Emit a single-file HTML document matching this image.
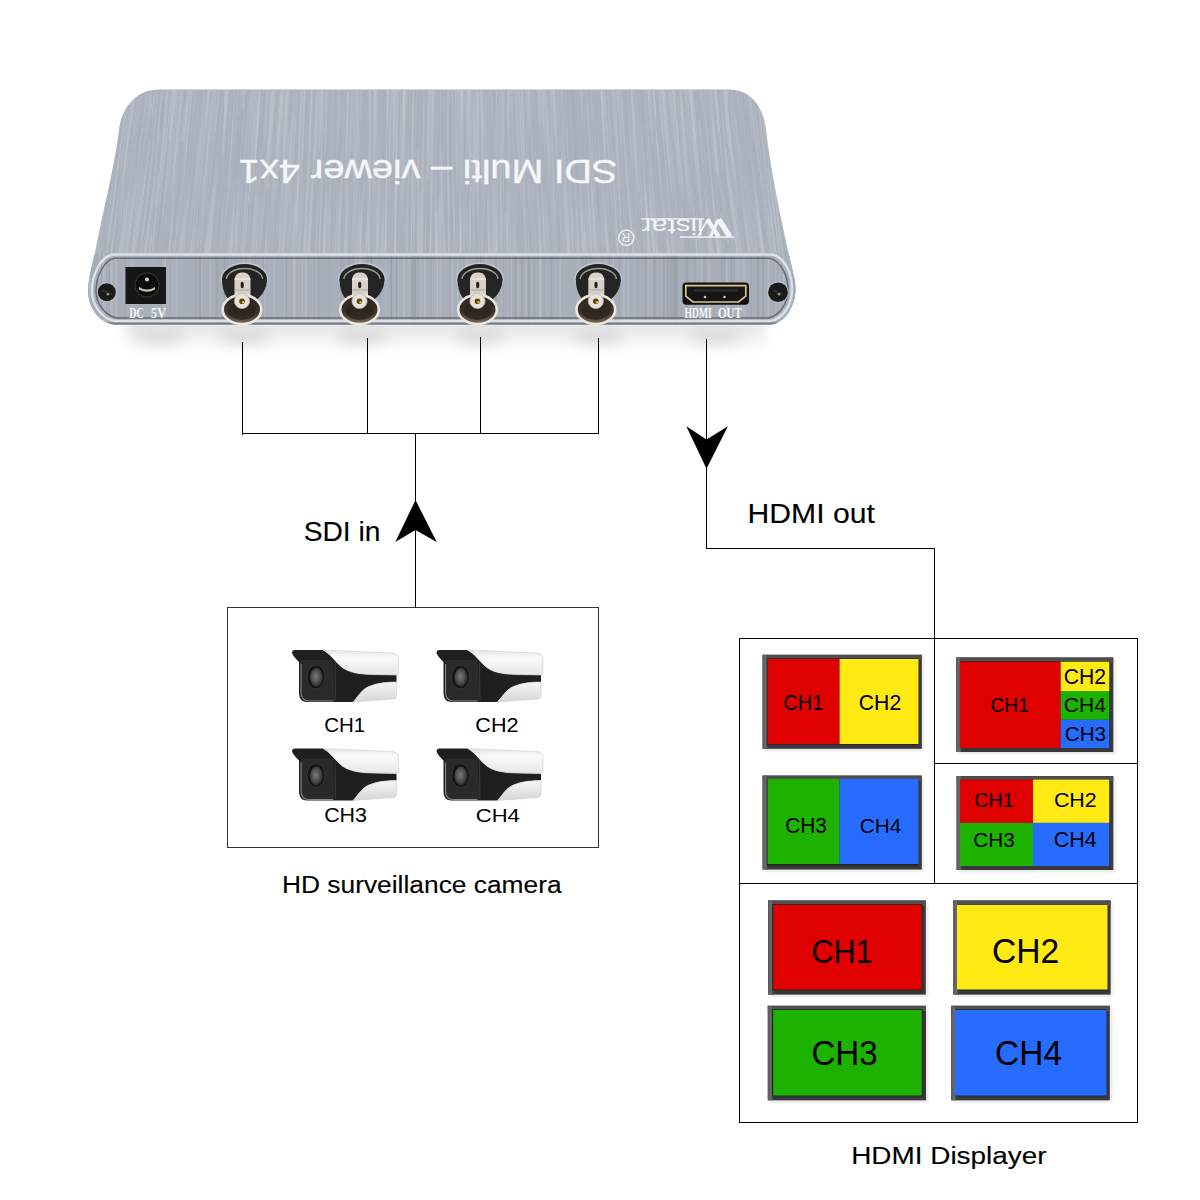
<!DOCTYPE html><html><head><meta charset="utf-8"><style>html,body{margin:0;padding:0;background:#fff;}body{width:1200px;height:1200px;overflow:hidden;position:relative;}svg{position:absolute;left:0;top:0;}</style></head><body>
<svg width="1200" height="1200" viewBox="0 0 1200 1200" font-family="Liberation Sans, sans-serif">
<defs>
<filter id="blur8" x="-20%" y="-50%" width="140%" height="200%"><feGaussianBlur stdDeviation="6"/></filter>
<filter id="blur2" x="-20%" y="-20%" width="140%" height="140%"><feGaussianBlur stdDeviation="1.5"/></filter>
<linearGradient id="bncin" x1="0" y1="0" x2="0" y2="1"><stop offset="0" stop-color="#2a221c"/><stop offset="0.6" stop-color="#3e3228"/><stop offset="1" stop-color="#7a6a58"/></linearGradient><linearGradient id="tvtop" x1="0" y1="0" x2="0" y2="1"><stop offset="0" stop-color="#4a4a4a"/><stop offset="1" stop-color="#575757"/></linearGradient><linearGradient id="tvleft" x1="0" y1="0" x2="1" y2="0"><stop offset="0" stop-color="#5a5a5a"/><stop offset="0.6" stop-color="#6a6a6a"/><stop offset="1" stop-color="#4a4a4a"/></linearGradient><linearGradient id="tvframe" x1="0" y1="0" x2="0" y2="1"><stop offset="0" stop-color="#2a2a2a"/><stop offset="0.5" stop-color="#3a3a3a"/><stop offset="1" stop-color="#444"/></linearGradient>
<linearGradient id="camwhite" x1="0" y1="0" x2="0" y2="1"><stop offset="0" stop-color="#e2e2e2"/><stop offset="0.3" stop-color="#fafafa"/><stop offset="1" stop-color="#e6e6e6"/></linearGradient>
<linearGradient id="camwhite2" x1="0" y1="0" x2="0" y2="1"><stop offset="0" stop-color="#f6f6f6"/><stop offset="1" stop-color="#d6d6d6"/></linearGradient>
<radialGradient id="lens" cx="0.45" cy="0.45" r="0.6"><stop offset="0" stop-color="#7a7a7a"/><stop offset="0.6" stop-color="#4a4a4a"/><stop offset="1" stop-color="#1a1a1a"/></radialGradient>
<clipPath id="topclip"><path d="M159,89.5 L729,89.5 C750,89.5 763,105 766,130 L782.5,253 L98.5,253 L119,130 C122,105 138,89.5 159,89.5 Z"/></clipPath>
<clipPath id="frontclip"><path d="M125,254 L760,254 C785,254 795,272 795,291 C795,310 785,324.5 760,324.5 L125,324.5 C100,324.5 89.5,310 89.5,290 C89.5,272 100,254 125,254 Z"/></clipPath>
</defs>
<linearGradient id="shad" x1="0" y1="0" x2="0" y2="1"><stop offset="0" stop-color="#d8d8d8"/><stop offset="0.3" stop-color="#ebebeb"/><stop offset="1" stop-color="#ffffff"/></linearGradient>
<rect x="125" y="321" width="640" height="32" fill="url(#shad)" filter="url(#blur8)"/>
<ellipse cx="160" cy="336" rx="26" ry="9" fill="#d6d6d6" opacity="0.7" filter="url(#blur8)"/>
<ellipse cx="244" cy="336" rx="26" ry="9" fill="#d6d6d6" opacity="0.7" filter="url(#blur8)"/>
<ellipse cx="362" cy="336" rx="26" ry="9" fill="#d6d6d6" opacity="0.7" filter="url(#blur8)"/>
<ellipse cx="480" cy="336" rx="26" ry="9" fill="#d6d6d6" opacity="0.7" filter="url(#blur8)"/>
<ellipse cx="598" cy="336" rx="26" ry="9" fill="#d6d6d6" opacity="0.7" filter="url(#blur8)"/>
<ellipse cx="715" cy="336" rx="26" ry="9" fill="#d6d6d6" opacity="0.7" filter="url(#blur8)"/>
<clipPath id="silclip"><path d="M159,89.5 L729,89.5 C750,89.5 763,105 766,130 C770,165 780,215 788.5,253 C792,268 795.5,280 795.5,289 C795.5,305 786,323.7 770,324.5 L115,324.5 C100,323.7 88,308 88,291 C88,280 92,266 95,253 C102,215 115,165 119,130 C122,105 138,89.5 159,89.5 Z"/></clipPath>
<path d="M159,89.5 L729,89.5 C750,89.5 763,105 766,130 C770,165 780,215 788.5,253 C792,268 795.5,280 795.5,289 C795.5,305 786,323.7 770,324.5 L115,324.5 C100,323.7 88,308 88,291 C88,280 92,266 95,253 C102,215 115,165 119,130 C122,105 138,89.5 159,89.5 Z" fill="#aab1bd"/>
<g clip-path="url(#silclip)">
<filter id="brush" x="0" y="60" width="900" height="220" filterUnits="userSpaceOnUse"><feTurbulence type="fractalNoise" baseFrequency="0.5 0.006" numOctaves="3" seed="5" result="n"/><feColorMatrix in="n" type="matrix" values="0 0 0 0 0.72  0 0 0 0 0.75  0 0 0 0 0.80  1.8 0 0 0 -0.95"/></filter>
<filter id="brushd" x="0" y="60" width="900" height="220" filterUnits="userSpaceOnUse"><feTurbulence type="fractalNoise" baseFrequency="0.42 0.005" numOctaves="3" seed="11" result="n"/><feColorMatrix in="n" type="matrix" values="0 0 0 0 0.58  0 0 0 0 0.61  0 0 0 0 0.67  2.4 0 0 0 -1.1"/></filter>
<clipPath id="strip0"><rect x="80" y="80" width="72" height="180"/></clipPath>
<g clip-path="url(#strip0)"><g transform="translate(116 170) skewX(-7.14) translate(-116 -170)"><rect x="40" y="80" width="152" height="180" filter="url(#brush)" opacity="0.6"/><rect x="40" y="80" width="152" height="180" filter="url(#brushd)" opacity="0.75"/></g></g>
<clipPath id="strip1"><rect x="152" y="80" width="72" height="180"/></clipPath>
<g clip-path="url(#strip1)"><g transform="translate(188 170) skewX(-5.55) translate(-188 -170)"><rect x="112" y="80" width="152" height="180" filter="url(#brush)" opacity="0.6"/><rect x="112" y="80" width="152" height="180" filter="url(#brushd)" opacity="0.75"/></g></g>
<clipPath id="strip2"><rect x="224" y="80" width="72" height="180"/></clipPath>
<g clip-path="url(#strip2)"><g transform="translate(260 170) skewX(-3.97) translate(-260 -170)"><rect x="184" y="80" width="152" height="180" filter="url(#brush)" opacity="0.6"/><rect x="184" y="80" width="152" height="180" filter="url(#brushd)" opacity="0.75"/></g></g>
<clipPath id="strip3"><rect x="296" y="80" width="72" height="180"/></clipPath>
<g clip-path="url(#strip3)"><g transform="translate(332 170) skewX(-2.38) translate(-332 -170)"><rect x="256" y="80" width="152" height="180" filter="url(#brush)" opacity="0.6"/><rect x="256" y="80" width="152" height="180" filter="url(#brushd)" opacity="0.75"/></g></g>
<clipPath id="strip4"><rect x="368" y="80" width="72" height="180"/></clipPath>
<g clip-path="url(#strip4)"><g transform="translate(404 170) skewX(-0.79) translate(-404 -170)"><rect x="328" y="80" width="152" height="180" filter="url(#brush)" opacity="0.6"/><rect x="328" y="80" width="152" height="180" filter="url(#brushd)" opacity="0.75"/></g></g>
<clipPath id="strip5"><rect x="440" y="80" width="72" height="180"/></clipPath>
<g clip-path="url(#strip5)"><g transform="translate(476 170) skewX(0.79) translate(-476 -170)"><rect x="400" y="80" width="152" height="180" filter="url(#brush)" opacity="0.6"/><rect x="400" y="80" width="152" height="180" filter="url(#brushd)" opacity="0.75"/></g></g>
<clipPath id="strip6"><rect x="512" y="80" width="72" height="180"/></clipPath>
<g clip-path="url(#strip6)"><g transform="translate(548 170) skewX(2.38) translate(-548 -170)"><rect x="472" y="80" width="152" height="180" filter="url(#brush)" opacity="0.6"/><rect x="472" y="80" width="152" height="180" filter="url(#brushd)" opacity="0.75"/></g></g>
<clipPath id="strip7"><rect x="584" y="80" width="72" height="180"/></clipPath>
<g clip-path="url(#strip7)"><g transform="translate(620 170) skewX(3.97) translate(-620 -170)"><rect x="544" y="80" width="152" height="180" filter="url(#brush)" opacity="0.6"/><rect x="544" y="80" width="152" height="180" filter="url(#brushd)" opacity="0.75"/></g></g>
<clipPath id="strip8"><rect x="656" y="80" width="72" height="180"/></clipPath>
<g clip-path="url(#strip8)"><g transform="translate(692 170) skewX(5.55) translate(-692 -170)"><rect x="616" y="80" width="152" height="180" filter="url(#brush)" opacity="0.6"/><rect x="616" y="80" width="152" height="180" filter="url(#brushd)" opacity="0.75"/></g></g>
<clipPath id="strip9"><rect x="728" y="80" width="72" height="180"/></clipPath>
<g clip-path="url(#strip9)"><g transform="translate(764 170) skewX(7.14) translate(-764 -170)"><rect x="688" y="80" width="152" height="180" filter="url(#brush)" opacity="0.6"/><rect x="688" y="80" width="152" height="180" filter="url(#brushd)" opacity="0.75"/></g></g>
<line x1="316.5" y1="98.4" x2="311.2" y2="211.3" stroke="#c0c7d2" stroke-width="1.7" opacity="0.23"/>
<line x1="501.7" y1="216.0" x2="503.0" y2="253.0" stroke="#c0c7d2" stroke-width="1.2" opacity="0.22"/>
<line x1="149.9" y1="140.8" x2="134.6" y2="253.0" stroke="#c0c7d2" stroke-width="1.9" opacity="0.39"/>
<line x1="501.8" y1="84.6" x2="504.3" y2="188.6" stroke="#c0c7d2" stroke-width="2.0" opacity="0.21"/>
<line x1="698.8" y1="119.9" x2="703.2" y2="164.4" stroke="#c0c7d2" stroke-width="1.4" opacity="0.37"/>
<line x1="572.6" y1="91.0" x2="577.8" y2="193.1" stroke="#9da4b0" stroke-width="1.1" opacity="0.36"/>
<line x1="129.9" y1="84.2" x2="123.6" y2="137.0" stroke="#b4bbc7" stroke-width="1.2" opacity="0.29"/>
<line x1="503.7" y1="145.2" x2="505.3" y2="210.7" stroke="#9da4b0" stroke-width="1.6" opacity="0.27"/>
<line x1="495.7" y1="156.4" x2="498.8" y2="253.0" stroke="#a3aab6" stroke-width="1.0" opacity="0.49"/>
<line x1="169.4" y1="139.8" x2="156.2" y2="253.0" stroke="#9da4b0" stroke-width="1.9" opacity="0.33"/>
<line x1="772.8" y1="87.0" x2="785.7" y2="187.4" stroke="#bac1cc" stroke-width="1.1" opacity="0.31"/>
<line x1="440.1" y1="198.5" x2="440.1" y2="232.8" stroke="#c0c7d2" stroke-width="1.9" opacity="0.34"/>
<line x1="559.9" y1="84.4" x2="565.4" y2="204.1" stroke="#b4bbc7" stroke-width="2.0" opacity="0.45"/>
<line x1="288.5" y1="134.8" x2="281.8" y2="250.1" stroke="#c0c7d2" stroke-width="1.9" opacity="0.31"/>
<line x1="521.8" y1="151.5" x2="523.5" y2="206.0" stroke="#bac1cc" stroke-width="0.8" opacity="0.27"/>
<line x1="364.5" y1="210.1" x2="363.5" y2="245.9" stroke="#a3aab6" stroke-width="1.2" opacity="0.28"/>
<line x1="182.9" y1="141.7" x2="173.1" y2="241.0" stroke="#a3aab6" stroke-width="2.0" opacity="0.40"/>
<line x1="357.0" y1="110.8" x2="355.9" y2="147.0" stroke="#9da4b0" stroke-width="0.9" opacity="0.27"/>
<line x1="431.7" y1="166.3" x2="431.6" y2="226.8" stroke="#c0c7d2" stroke-width="0.8" opacity="0.36"/>
<line x1="521.0" y1="124.4" x2="522.3" y2="166.3" stroke="#b4bbc7" stroke-width="1.9" opacity="0.40"/>
<line x1="613.9" y1="145.8" x2="623.5" y2="253.0" stroke="#b4bbc7" stroke-width="1.1" opacity="0.32"/>
<line x1="159.0" y1="173.3" x2="155.4" y2="206.7" stroke="#c0c7d2" stroke-width="2.0" opacity="0.33"/>
<line x1="163.6" y1="168.1" x2="159.5" y2="206.9" stroke="#b4bbc7" stroke-width="0.8" opacity="0.23"/>
<line x1="345.0" y1="79.0" x2="339.8" y2="222.0" stroke="#b4bbc7" stroke-width="1.1" opacity="0.39"/>
<line x1="768.2" y1="168.4" x2="779.4" y2="253.0" stroke="#c0c7d2" stroke-width="1.8" opacity="0.50"/>
<line x1="418.2" y1="150.0" x2="417.9" y2="186.6" stroke="#c0c7d2" stroke-width="1.6" opacity="0.42"/>
<line x1="427.2" y1="182.3" x2="426.7" y2="253.0" stroke="#9da4b0" stroke-width="1.9" opacity="0.36"/>
<line x1="189.8" y1="159.2" x2="187.1" y2="187.8" stroke="#b4bbc7" stroke-width="1.0" opacity="0.39"/>
<line x1="150.1" y1="206.0" x2="139.5" y2="253.0" stroke="#9da4b0" stroke-width="1.1" opacity="0.27"/>
<line x1="472.2" y1="152.9" x2="473.6" y2="253.0" stroke="#b4bbc7" stroke-width="1.7" opacity="0.50"/>
<line x1="694.6" y1="199.9" x2="707.9" y2="253.0" stroke="#9da4b0" stroke-width="0.9" opacity="0.35"/>
<line x1="607.7" y1="228.4" x2="616.2" y2="253.0" stroke="#a3aab6" stroke-width="1.0" opacity="0.41"/>
<line x1="768.9" y1="144.3" x2="788.1" y2="253.0" stroke="#bac1cc" stroke-width="1.9" opacity="0.31"/>
<line x1="242.6" y1="110.2" x2="238.7" y2="161.7" stroke="#9da4b0" stroke-width="1.3" opacity="0.50"/>
<line x1="521.3" y1="75.3" x2="526.0" y2="223.0" stroke="#bac1cc" stroke-width="1.7" opacity="0.23"/>
<line x1="557.3" y1="216.0" x2="563.2" y2="253.0" stroke="#9da4b0" stroke-width="1.3" opacity="0.25"/>
<line x1="649.2" y1="126.5" x2="659.9" y2="253.0" stroke="#a3aab6" stroke-width="1.2" opacity="0.42"/>
<line x1="145.7" y1="99.6" x2="127.7" y2="253.0" stroke="#c0c7d2" stroke-width="0.8" opacity="0.47"/>
<line x1="661.6" y1="97.7" x2="673.3" y2="234.2" stroke="#a3aab6" stroke-width="1.5" opacity="0.31"/>
<line x1="477.3" y1="95.3" x2="477.7" y2="122.2" stroke="#c0c7d2" stroke-width="1.3" opacity="0.48"/>
<line x1="395.2" y1="210.1" x2="392.8" y2="253.0" stroke="#9da4b0" stroke-width="0.6" opacity="0.26"/>
<line x1="443.3" y1="193.4" x2="443.4" y2="253.0" stroke="#b4bbc7" stroke-width="1.2" opacity="0.24"/>
<line x1="735.7" y1="129.8" x2="745.5" y2="216.7" stroke="#b4bbc7" stroke-width="1.7" opacity="0.36"/>
<line x1="676.4" y1="211.1" x2="680.3" y2="253.0" stroke="#9da4b0" stroke-width="1.3" opacity="0.21"/>
<line x1="399.7" y1="103.4" x2="399.3" y2="128.9" stroke="#9da4b0" stroke-width="0.8" opacity="0.34"/>
<line x1="603.5" y1="161.3" x2="607.9" y2="230.3" stroke="#b4bbc7" stroke-width="1.3" opacity="0.34"/>
<line x1="640.2" y1="211.9" x2="642.7" y2="244.6" stroke="#9da4b0" stroke-width="1.0" opacity="0.43"/>
<line x1="448.0" y1="162.1" x2="448.4" y2="253.0" stroke="#c0c7d2" stroke-width="1.2" opacity="0.38"/>
<line x1="446.5" y1="154.4" x2="446.8" y2="253.0" stroke="#a3aab6" stroke-width="1.3" opacity="0.44"/>
<line x1="448.0" y1="113.4" x2="448.3" y2="209.0" stroke="#bac1cc" stroke-width="1.9" opacity="0.47"/>
<line x1="229.9" y1="144.4" x2="223.3" y2="225.6" stroke="#a3aab6" stroke-width="1.2" opacity="0.22"/>
<line x1="257.1" y1="86.3" x2="248.9" y2="201.7" stroke="#c0c7d2" stroke-width="1.9" opacity="0.25"/>
<line x1="597.0" y1="177.3" x2="599.7" y2="221.6" stroke="#9da4b0" stroke-width="2.0" opacity="0.27"/>
<line x1="766.0" y1="136.7" x2="777.4" y2="227.5" stroke="#9da4b0" stroke-width="0.8" opacity="0.33"/>
<line x1="453.7" y1="127.6" x2="453.9" y2="179.0" stroke="#bac1cc" stroke-width="0.7" opacity="0.31"/>
<line x1="326.7" y1="146.1" x2="321.4" y2="253.0" stroke="#a3aab6" stroke-width="1.1" opacity="0.39"/>
<line x1="451.3" y1="85.0" x2="452.0" y2="243.0" stroke="#9da4b0" stroke-width="2.0" opacity="0.23"/>
<line x1="274.9" y1="81.1" x2="266.6" y2="211.3" stroke="#bac1cc" stroke-width="1.7" opacity="0.45"/>
<line x1="692.5" y1="179.8" x2="707.3" y2="253.0" stroke="#a3aab6" stroke-width="0.8" opacity="0.48"/>
<line x1="493.0" y1="183.6" x2="493.7" y2="220.6" stroke="#c0c7d2" stroke-width="1.7" opacity="0.26"/>
<line x1="725.1" y1="116.7" x2="728.1" y2="144.0" stroke="#c0c7d2" stroke-width="1.7" opacity="0.23"/>
<line x1="697.2" y1="85.3" x2="711.2" y2="226.8" stroke="#a3aab6" stroke-width="0.6" opacity="0.50"/>
<line x1="383.7" y1="216.9" x2="381.3" y2="253.0" stroke="#c0c7d2" stroke-width="1.3" opacity="0.27"/>
<line x1="163.3" y1="100.0" x2="159.9" y2="131.8" stroke="#9da4b0" stroke-width="1.9" opacity="0.39"/>
<line x1="464.7" y1="106.9" x2="465.5" y2="192.1" stroke="#9da4b0" stroke-width="1.0" opacity="0.44"/>
<line x1="796.1" y1="80.7" x2="799.8" y2="108.2" stroke="#b4bbc7" stroke-width="1.4" opacity="0.26"/>
<line x1="424.5" y1="219.9" x2="424.2" y2="253.0" stroke="#a3aab6" stroke-width="1.5" opacity="0.36"/>
<line x1="720.4" y1="225.4" x2="727.6" y2="253.0" stroke="#9da4b0" stroke-width="2.0" opacity="0.30"/>
<line x1="680.1" y1="184.5" x2="690.3" y2="253.0" stroke="#a3aab6" stroke-width="2.0" opacity="0.49"/>
<line x1="683.4" y1="77.2" x2="693.7" y2="186.6" stroke="#bac1cc" stroke-width="1.2" opacity="0.22"/>
<line x1="560.6" y1="134.0" x2="565.0" y2="227.3" stroke="#bac1cc" stroke-width="1.4" opacity="0.41"/>
<line x1="117.3" y1="103.7" x2="109.7" y2="165.0" stroke="#c0c7d2" stroke-width="1.0" opacity="0.49"/>
<line x1="780.4" y1="159.8" x2="788.0" y2="217.8" stroke="#bac1cc" stroke-width="0.9" opacity="0.25"/>
<line x1="324.8" y1="88.0" x2="322.0" y2="150.7" stroke="#9da4b0" stroke-width="0.9" opacity="0.43"/>
<line x1="150.0" y1="201.6" x2="145.0" y2="246.1" stroke="#b4bbc7" stroke-width="0.7" opacity="0.21"/>
<line x1="302.5" y1="111.1" x2="297.0" y2="215.1" stroke="#b4bbc7" stroke-width="1.8" opacity="0.25"/>
<line x1="723.4" y1="196.5" x2="734.9" y2="253.0" stroke="#bac1cc" stroke-width="1.6" opacity="0.35"/>
<line x1="288.2" y1="170.9" x2="285.6" y2="215.4" stroke="#b4bbc7" stroke-width="1.5" opacity="0.42"/>
<line x1="665.7" y1="96.6" x2="674.0" y2="192.3" stroke="#b4bbc7" stroke-width="1.4" opacity="0.44"/>
<line x1="96.5" y1="181.4" x2="79.0" y2="253.0" stroke="#9da4b0" stroke-width="0.7" opacity="0.21"/>
<line x1="540.5" y1="223.7" x2="543.5" y2="253.0" stroke="#a3aab6" stroke-width="1.4" opacity="0.39"/>
<line x1="532.8" y1="180.5" x2="536.0" y2="253.0" stroke="#c0c7d2" stroke-width="1.2" opacity="0.22"/>
<line x1="751.7" y1="214.2" x2="756.2" y2="251.6" stroke="#b4bbc7" stroke-width="0.7" opacity="0.42"/>
<line x1="265.3" y1="86.5" x2="261.2" y2="147.4" stroke="#9da4b0" stroke-width="0.9" opacity="0.39"/>
<line x1="414.1" y1="206.1" x2="413.8" y2="241.4" stroke="#bac1cc" stroke-width="1.7" opacity="0.39"/>
<line x1="544.6" y1="87.0" x2="546.4" y2="131.9" stroke="#bac1cc" stroke-width="1.5" opacity="0.41"/>
<line x1="529.1" y1="95.7" x2="532.2" y2="185.8" stroke="#a3aab6" stroke-width="1.0" opacity="0.40"/>
<line x1="579.9" y1="179.7" x2="583.4" y2="244.0" stroke="#b4bbc7" stroke-width="1.0" opacity="0.34"/>
<line x1="633.5" y1="229.0" x2="640.9" y2="253.0" stroke="#bac1cc" stroke-width="2.0" opacity="0.48"/>
<line x1="97.5" y1="146.1" x2="79.6" y2="253.0" stroke="#a3aab6" stroke-width="2.0" opacity="0.32"/>
<line x1="740.3" y1="219.2" x2="744.4" y2="253.0" stroke="#c0c7d2" stroke-width="0.8" opacity="0.36"/>
<line x1="766.2" y1="95.6" x2="783.2" y2="231.3" stroke="#b4bbc7" stroke-width="1.0" opacity="0.23"/>
<line x1="346.1" y1="152.2" x2="340.9" y2="253.0" stroke="#a3aab6" stroke-width="0.6" opacity="0.20"/>
<line x1="436.6" y1="144.9" x2="436.5" y2="210.6" stroke="#9da4b0" stroke-width="1.2" opacity="0.31"/>
<line x1="171.5" y1="126.4" x2="164.3" y2="195.2" stroke="#bac1cc" stroke-width="1.8" opacity="0.24"/>
<line x1="747.4" y1="185.5" x2="764.7" y2="253.0" stroke="#bac1cc" stroke-width="1.0" opacity="0.22"/>
<line x1="364.0" y1="209.8" x2="362.9" y2="245.2" stroke="#a3aab6" stroke-width="1.7" opacity="0.46"/>
<line x1="285.7" y1="83.0" x2="278.9" y2="197.4" stroke="#9da4b0" stroke-width="0.9" opacity="0.28"/>
<line x1="450.3" y1="104.4" x2="450.6" y2="179.8" stroke="#a3aab6" stroke-width="1.8" opacity="0.44"/>
<line x1="536.1" y1="216.6" x2="541.7" y2="253.0" stroke="#b4bbc7" stroke-width="0.9" opacity="0.22"/>
<line x1="752.4" y1="138.7" x2="765.4" y2="246.7" stroke="#9da4b0" stroke-width="1.5" opacity="0.29"/>
<line x1="120.0" y1="218.7" x2="114.8" y2="253.0" stroke="#a3aab6" stroke-width="1.2" opacity="0.28"/>
<line x1="267.9" y1="189.5" x2="260.4" y2="253.0" stroke="#a3aab6" stroke-width="1.5" opacity="0.29"/>
<line x1="483.5" y1="136.1" x2="484.3" y2="183.7" stroke="#9da4b0" stroke-width="0.7" opacity="0.35"/>
<line x1="665.5" y1="160.3" x2="672.9" y2="246.5" stroke="#bac1cc" stroke-width="2.0" opacity="0.33"/>
<line x1="184.8" y1="104.8" x2="181.2" y2="142.1" stroke="#bac1cc" stroke-width="1.4" opacity="0.30"/>
<line x1="348.3" y1="200.5" x2="346.5" y2="252.7" stroke="#c0c7d2" stroke-width="1.6" opacity="0.32"/>
<line x1="380.9" y1="156.2" x2="379.2" y2="232.1" stroke="#bac1cc" stroke-width="1.7" opacity="0.35"/>
<line x1="495.6" y1="130.8" x2="498.1" y2="248.5" stroke="#b4bbc7" stroke-width="1.5" opacity="0.46"/>
<line x1="239.4" y1="117.0" x2="234.9" y2="175.5" stroke="#a3aab6" stroke-width="1.5" opacity="0.33"/>
<line x1="308.1" y1="201.2" x2="300.2" y2="253.0" stroke="#9da4b0" stroke-width="0.6" opacity="0.41"/>
<line x1="725.4" y1="148.4" x2="736.9" y2="252.6" stroke="#c0c7d2" stroke-width="0.7" opacity="0.48"/>
<line x1="748.6" y1="156.8" x2="759.1" y2="245.0" stroke="#a3aab6" stroke-width="0.9" opacity="0.23"/>
<line x1="195.4" y1="156.0" x2="184.4" y2="253.0" stroke="#a3aab6" stroke-width="0.7" opacity="0.43"/>
<line x1="86.0" y1="94.5" x2="72.1" y2="196.3" stroke="#c0c7d2" stroke-width="1.5" opacity="0.29"/>
<line x1="176.5" y1="114.0" x2="165.3" y2="224.9" stroke="#c0c7d2" stroke-width="0.7" opacity="0.29"/>
<line x1="759.6" y1="104.7" x2="767.0" y2="164.9" stroke="#b4bbc7" stroke-width="0.6" opacity="0.36"/>
<line x1="797.4" y1="118.2" x2="806.7" y2="185.9" stroke="#9da4b0" stroke-width="1.3" opacity="0.27"/>
<line x1="261.6" y1="223.9" x2="253.4" y2="253.0" stroke="#bac1cc" stroke-width="0.7" opacity="0.26"/>
<line x1="717.7" y1="175.3" x2="721.5" y2="211.3" stroke="#9da4b0" stroke-width="1.5" opacity="0.48"/>
<rect x="80" y="253" width="720" height="75" fill="#a9afba"/>
<line x1="247.2" y1="254" x2="247.2" y2="325" stroke="#bcc2cc" stroke-width="1.6" opacity="0.59"/>
<line x1="344.1" y1="254" x2="344.1" y2="325" stroke="#9da3ae" stroke-width="0.9" opacity="0.62"/>
<line x1="613.5" y1="254" x2="613.5" y2="325" stroke="#bcc2cc" stroke-width="0.9" opacity="0.69"/>
<line x1="307.9" y1="254" x2="307.9" y2="325" stroke="#959ba6" stroke-width="0.9" opacity="0.39"/>
<line x1="628.7" y1="254" x2="628.7" y2="325" stroke="#b4bac5" stroke-width="0.8" opacity="0.55"/>
<line x1="521.2" y1="254" x2="521.2" y2="325" stroke="#959ba6" stroke-width="1.3" opacity="0.66"/>
<line x1="125.3" y1="254" x2="125.3" y2="325" stroke="#959ba6" stroke-width="1.9" opacity="0.32"/>
<line x1="101.9" y1="254" x2="101.9" y2="325" stroke="#959ba6" stroke-width="1.2" opacity="0.58"/>
<line x1="216.6" y1="254" x2="216.6" y2="325" stroke="#9da3ae" stroke-width="1.9" opacity="0.65"/>
<line x1="608.9" y1="254" x2="608.9" y2="325" stroke="#bcc2cc" stroke-width="1.9" opacity="0.43"/>
<line x1="217.6" y1="254" x2="217.6" y2="325" stroke="#9da3ae" stroke-width="0.6" opacity="0.57"/>
<line x1="355.7" y1="254" x2="355.7" y2="325" stroke="#b4bac5" stroke-width="2.0" opacity="0.48"/>
<line x1="162.9" y1="254" x2="162.9" y2="325" stroke="#bcc2cc" stroke-width="1.0" opacity="0.44"/>
<line x1="768.2" y1="254" x2="768.2" y2="325" stroke="#bcc2cc" stroke-width="1.4" opacity="0.60"/>
<line x1="356.8" y1="254" x2="356.8" y2="325" stroke="#b4bac5" stroke-width="1.8" opacity="0.47"/>
<line x1="120.2" y1="254" x2="120.2" y2="325" stroke="#9da3ae" stroke-width="0.9" opacity="0.52"/>
<line x1="404.1" y1="254" x2="404.1" y2="325" stroke="#b4bac5" stroke-width="1.1" opacity="0.66"/>
<line x1="106.7" y1="254" x2="106.7" y2="325" stroke="#9da3ae" stroke-width="0.9" opacity="0.55"/>
<line x1="374.4" y1="254" x2="374.4" y2="325" stroke="#9da3ae" stroke-width="0.6" opacity="0.33"/>
<line x1="742.9" y1="254" x2="742.9" y2="325" stroke="#b4bac5" stroke-width="0.9" opacity="0.33"/>
<line x1="518.0" y1="254" x2="518.0" y2="325" stroke="#b4bac5" stroke-width="1.0" opacity="0.68"/>
<line x1="526.1" y1="254" x2="526.1" y2="325" stroke="#b4bac5" stroke-width="1.6" opacity="0.58"/>
<line x1="745.8" y1="254" x2="745.8" y2="325" stroke="#b4bac5" stroke-width="0.6" opacity="0.60"/>
<line x1="740.3" y1="254" x2="740.3" y2="325" stroke="#bcc2cc" stroke-width="0.6" opacity="0.39"/>
<line x1="424.8" y1="254" x2="424.8" y2="325" stroke="#9da3ae" stroke-width="1.9" opacity="0.45"/>
<line x1="264.5" y1="254" x2="264.5" y2="325" stroke="#9da3ae" stroke-width="1.7" opacity="0.35"/>
<line x1="440.0" y1="254" x2="440.0" y2="325" stroke="#bcc2cc" stroke-width="1.7" opacity="0.60"/>
<line x1="673.3" y1="254" x2="673.3" y2="325" stroke="#959ba6" stroke-width="1.5" opacity="0.43"/>
<line x1="313.5" y1="254" x2="313.5" y2="325" stroke="#b4bac5" stroke-width="1.7" opacity="0.54"/>
<line x1="451.0" y1="254" x2="451.0" y2="325" stroke="#9da3ae" stroke-width="1.7" opacity="0.40"/>
<line x1="131.3" y1="254" x2="131.3" y2="325" stroke="#bcc2cc" stroke-width="1.3" opacity="0.52"/>
<line x1="199.9" y1="254" x2="199.9" y2="325" stroke="#9da3ae" stroke-width="1.8" opacity="0.70"/>
<line x1="274.4" y1="254" x2="274.4" y2="325" stroke="#bcc2cc" stroke-width="0.9" opacity="0.47"/>
<line x1="791.7" y1="254" x2="791.7" y2="325" stroke="#9da3ae" stroke-width="0.8" opacity="0.35"/>
<line x1="414.6" y1="254" x2="414.6" y2="325" stroke="#959ba6" stroke-width="1.6" opacity="0.64"/>
<line x1="560.1" y1="254" x2="560.1" y2="325" stroke="#bcc2cc" stroke-width="1.7" opacity="0.42"/>
<line x1="284.8" y1="254" x2="284.8" y2="325" stroke="#b4bac5" stroke-width="1.1" opacity="0.60"/>
<line x1="227.4" y1="254" x2="227.4" y2="325" stroke="#959ba6" stroke-width="0.9" opacity="0.39"/>
<line x1="286.2" y1="254" x2="286.2" y2="325" stroke="#959ba6" stroke-width="1.1" opacity="0.46"/>
<line x1="794.6" y1="254" x2="794.6" y2="325" stroke="#959ba6" stroke-width="1.5" opacity="0.34"/>
<line x1="416.7" y1="254" x2="416.7" y2="325" stroke="#bcc2cc" stroke-width="0.7" opacity="0.49"/>
<line x1="670.7" y1="254" x2="670.7" y2="325" stroke="#9da3ae" stroke-width="1.9" opacity="0.32"/>
<line x1="295.0" y1="254" x2="295.0" y2="325" stroke="#bcc2cc" stroke-width="0.7" opacity="0.54"/>
<line x1="677.0" y1="254" x2="677.0" y2="325" stroke="#959ba6" stroke-width="1.9" opacity="0.45"/>
<line x1="704.3" y1="254" x2="704.3" y2="325" stroke="#9da3ae" stroke-width="1.4" opacity="0.61"/>
<line x1="560.3" y1="254" x2="560.3" y2="325" stroke="#bcc2cc" stroke-width="0.7" opacity="0.54"/>
<line x1="528.3" y1="254" x2="528.3" y2="325" stroke="#959ba6" stroke-width="0.7" opacity="0.44"/>
<line x1="116.6" y1="254" x2="116.6" y2="325" stroke="#b4bac5" stroke-width="0.7" opacity="0.59"/>
<line x1="738.5" y1="254" x2="738.5" y2="325" stroke="#bcc2cc" stroke-width="1.7" opacity="0.46"/>
<line x1="350.8" y1="254" x2="350.8" y2="325" stroke="#b4bac5" stroke-width="0.7" opacity="0.31"/>
<line x1="439.4" y1="254" x2="439.4" y2="325" stroke="#9da3ae" stroke-width="0.7" opacity="0.34"/>
<line x1="367.6" y1="254" x2="367.6" y2="325" stroke="#959ba6" stroke-width="1.5" opacity="0.34"/>
<line x1="202.0" y1="254" x2="202.0" y2="325" stroke="#b4bac5" stroke-width="1.2" opacity="0.41"/>
<line x1="304.9" y1="254" x2="304.9" y2="325" stroke="#bcc2cc" stroke-width="1.0" opacity="0.53"/>
<line x1="340.4" y1="254" x2="340.4" y2="325" stroke="#9da3ae" stroke-width="0.6" opacity="0.61"/>
<line x1="658.6" y1="254" x2="658.6" y2="325" stroke="#959ba6" stroke-width="1.1" opacity="0.46"/>
<line x1="758.5" y1="254" x2="758.5" y2="325" stroke="#9da3ae" stroke-width="1.9" opacity="0.47"/>
<line x1="671.6" y1="254" x2="671.6" y2="325" stroke="#9da3ae" stroke-width="1.4" opacity="0.45"/>
<line x1="637.7" y1="254" x2="637.7" y2="325" stroke="#959ba6" stroke-width="0.6" opacity="0.52"/>
<line x1="543.1" y1="254" x2="543.1" y2="325" stroke="#9da3ae" stroke-width="0.7" opacity="0.55"/>
<line x1="350.2" y1="254" x2="350.2" y2="325" stroke="#959ba6" stroke-width="0.8" opacity="0.41"/>
<line x1="457.6" y1="254" x2="457.6" y2="325" stroke="#bcc2cc" stroke-width="0.8" opacity="0.50"/>
<line x1="660.4" y1="254" x2="660.4" y2="325" stroke="#959ba6" stroke-width="1.0" opacity="0.63"/>
<line x1="116.1" y1="254" x2="116.1" y2="325" stroke="#9da3ae" stroke-width="1.0" opacity="0.54"/>
<line x1="540.0" y1="254" x2="540.0" y2="325" stroke="#bcc2cc" stroke-width="1.9" opacity="0.55"/>
<line x1="674.6" y1="254" x2="674.6" y2="325" stroke="#959ba6" stroke-width="1.5" opacity="0.64"/>
<line x1="529.1" y1="254" x2="529.1" y2="325" stroke="#959ba6" stroke-width="1.8" opacity="0.37"/>
<line x1="241.0" y1="254" x2="241.0" y2="325" stroke="#9da3ae" stroke-width="1.9" opacity="0.36"/>
<line x1="341.8" y1="254" x2="341.8" y2="325" stroke="#959ba6" stroke-width="0.9" opacity="0.59"/>
<line x1="726.6" y1="254" x2="726.6" y2="325" stroke="#bcc2cc" stroke-width="1.8" opacity="0.64"/>
<line x1="565.7" y1="254" x2="565.7" y2="325" stroke="#b4bac5" stroke-width="0.8" opacity="0.54"/>
<line x1="478.3" y1="254" x2="478.3" y2="325" stroke="#b4bac5" stroke-width="1.5" opacity="0.42"/>
<line x1="263.2" y1="254" x2="263.2" y2="325" stroke="#9da3ae" stroke-width="1.5" opacity="0.48"/>
<line x1="398.4" y1="254" x2="398.4" y2="325" stroke="#bcc2cc" stroke-width="0.6" opacity="0.69"/>
<line x1="417.7" y1="254" x2="417.7" y2="325" stroke="#9da3ae" stroke-width="1.7" opacity="0.61"/>
<line x1="412.7" y1="254" x2="412.7" y2="325" stroke="#959ba6" stroke-width="1.7" opacity="0.46"/>
<line x1="133.0" y1="254" x2="133.0" y2="325" stroke="#b4bac5" stroke-width="1.2" opacity="0.34"/>
<line x1="401.0" y1="254" x2="401.0" y2="325" stroke="#bcc2cc" stroke-width="0.7" opacity="0.35"/>
<line x1="744.3" y1="254" x2="744.3" y2="325" stroke="#b4bac5" stroke-width="1.7" opacity="0.50"/>
<line x1="123.8" y1="254" x2="123.8" y2="325" stroke="#9da3ae" stroke-width="1.5" opacity="0.61"/>
<line x1="103.5" y1="254" x2="103.5" y2="325" stroke="#bcc2cc" stroke-width="2.0" opacity="0.59"/>
<line x1="667.7" y1="254" x2="667.7" y2="325" stroke="#959ba6" stroke-width="0.8" opacity="0.65"/>
<line x1="290.8" y1="254" x2="290.8" y2="325" stroke="#959ba6" stroke-width="1.6" opacity="0.59"/>
<line x1="243.1" y1="254" x2="243.1" y2="325" stroke="#b4bac5" stroke-width="1.5" opacity="0.40"/>
<line x1="316.5" y1="254" x2="316.5" y2="325" stroke="#b4bac5" stroke-width="1.9" opacity="0.48"/>
<line x1="266.7" y1="254" x2="266.7" y2="325" stroke="#9da3ae" stroke-width="0.9" opacity="0.41"/>
<line x1="446.8" y1="254" x2="446.8" y2="325" stroke="#b4bac5" stroke-width="1.1" opacity="0.38"/>
<line x1="373.5" y1="254" x2="373.5" y2="325" stroke="#b4bac5" stroke-width="1.6" opacity="0.66"/>
<line x1="205.7" y1="254" x2="205.7" y2="325" stroke="#b4bac5" stroke-width="0.8" opacity="0.51"/>
<line x1="540.0" y1="254" x2="540.0" y2="325" stroke="#b4bac5" stroke-width="2.0" opacity="0.48"/>
<line x1="457.8" y1="254" x2="457.8" y2="325" stroke="#bcc2cc" stroke-width="1.0" opacity="0.51"/>
<line x1="697.5" y1="254" x2="697.5" y2="325" stroke="#b4bac5" stroke-width="1.0" opacity="0.70"/>
<line x1="497.8" y1="254" x2="497.8" y2="325" stroke="#b4bac5" stroke-width="1.1" opacity="0.33"/>
<line x1="249.5" y1="254" x2="249.5" y2="325" stroke="#bcc2cc" stroke-width="1.0" opacity="0.51"/>
<line x1="306.7" y1="254" x2="306.7" y2="325" stroke="#b4bac5" stroke-width="1.6" opacity="0.60"/>
<line x1="243.5" y1="254" x2="243.5" y2="325" stroke="#b4bac5" stroke-width="1.5" opacity="0.47"/>
<line x1="451.6" y1="254" x2="451.6" y2="325" stroke="#bcc2cc" stroke-width="0.8" opacity="0.39"/>
<line x1="552.0" y1="254" x2="552.0" y2="325" stroke="#bcc2cc" stroke-width="0.7" opacity="0.53"/>
<line x1="302.2" y1="254" x2="302.2" y2="325" stroke="#b4bac5" stroke-width="1.3" opacity="0.47"/>
<line x1="300.3" y1="254" x2="300.3" y2="325" stroke="#959ba6" stroke-width="0.9" opacity="0.55"/>
<line x1="424.6" y1="254" x2="424.6" y2="325" stroke="#959ba6" stroke-width="0.6" opacity="0.62"/>
<line x1="590.8" y1="254" x2="590.8" y2="325" stroke="#9da3ae" stroke-width="0.7" opacity="0.56"/>
<line x1="708.0" y1="254" x2="708.0" y2="325" stroke="#b4bac5" stroke-width="1.2" opacity="0.41"/>
<line x1="93.2" y1="254" x2="93.2" y2="325" stroke="#b4bac5" stroke-width="1.4" opacity="0.53"/>
<line x1="515.3" y1="254" x2="515.3" y2="325" stroke="#9da3ae" stroke-width="0.9" opacity="0.66"/>
<line x1="116.5" y1="254" x2="116.5" y2="325" stroke="#bcc2cc" stroke-width="1.2" opacity="0.40"/>
<line x1="126.7" y1="254" x2="126.7" y2="325" stroke="#bcc2cc" stroke-width="0.6" opacity="0.52"/>
<line x1="757.8" y1="254" x2="757.8" y2="325" stroke="#959ba6" stroke-width="1.2" opacity="0.51"/>
<line x1="544.5" y1="254" x2="544.5" y2="325" stroke="#9da3ae" stroke-width="1.7" opacity="0.37"/>
<line x1="306.2" y1="254" x2="306.2" y2="325" stroke="#b4bac5" stroke-width="1.5" opacity="0.70"/>
<line x1="602.9" y1="254" x2="602.9" y2="325" stroke="#9da3ae" stroke-width="1.6" opacity="0.30"/>
<line x1="688.8" y1="254" x2="688.8" y2="325" stroke="#9da3ae" stroke-width="0.7" opacity="0.56"/>
<line x1="210.4" y1="254" x2="210.4" y2="325" stroke="#bcc2cc" stroke-width="1.0" opacity="0.56"/>
<line x1="173.1" y1="254" x2="173.1" y2="325" stroke="#b4bac5" stroke-width="1.6" opacity="0.41"/>
<line x1="481.0" y1="254" x2="481.0" y2="325" stroke="#9da3ae" stroke-width="1.6" opacity="0.67"/>
<line x1="779.9" y1="254" x2="779.9" y2="325" stroke="#b4bac5" stroke-width="1.5" opacity="0.69"/>
<line x1="240.2" y1="254" x2="240.2" y2="325" stroke="#bcc2cc" stroke-width="0.8" opacity="0.66"/>
<line x1="686.8" y1="254" x2="686.8" y2="325" stroke="#959ba6" stroke-width="1.9" opacity="0.60"/>
<line x1="318.7" y1="254" x2="318.7" y2="325" stroke="#9da3ae" stroke-width="1.1" opacity="0.40"/>
<line x1="733.9" y1="254" x2="733.9" y2="325" stroke="#9da3ae" stroke-width="1.3" opacity="0.51"/>
<line x1="89.6" y1="254" x2="89.6" y2="325" stroke="#bcc2cc" stroke-width="1.2" opacity="0.59"/>
<line x1="492.8" y1="254" x2="492.8" y2="325" stroke="#b4bac5" stroke-width="1.7" opacity="0.46"/>
<line x1="503.5" y1="254" x2="503.5" y2="325" stroke="#959ba6" stroke-width="0.8" opacity="0.31"/>
<line x1="161.3" y1="254" x2="161.3" y2="325" stroke="#959ba6" stroke-width="1.1" opacity="0.36"/>
<line x1="105.5" y1="254" x2="105.5" y2="325" stroke="#bcc2cc" stroke-width="0.8" opacity="0.56"/>
<line x1="115.5" y1="254" x2="115.5" y2="325" stroke="#bcc2cc" stroke-width="1.6" opacity="0.33"/>
<line x1="507.2" y1="254" x2="507.2" y2="325" stroke="#b4bac5" stroke-width="0.9" opacity="0.68"/>
<line x1="466.7" y1="254" x2="466.7" y2="325" stroke="#bcc2cc" stroke-width="1.8" opacity="0.60"/>
<line x1="593.5" y1="254" x2="593.5" y2="325" stroke="#9da3ae" stroke-width="0.7" opacity="0.38"/>
<line x1="165.1" y1="254" x2="165.1" y2="325" stroke="#bcc2cc" stroke-width="1.9" opacity="0.66"/>
<line x1="623.9" y1="254" x2="623.9" y2="325" stroke="#bcc2cc" stroke-width="1.8" opacity="0.55"/>
<line x1="290.5" y1="254" x2="290.5" y2="325" stroke="#bcc2cc" stroke-width="0.8" opacity="0.62"/>
<line x1="547.1" y1="254" x2="547.1" y2="325" stroke="#b4bac5" stroke-width="1.0" opacity="0.47"/>
<line x1="100.0" y1="254" x2="100.0" y2="325" stroke="#b4bac5" stroke-width="1.9" opacity="0.32"/>
<line x1="628.3" y1="254" x2="628.3" y2="325" stroke="#b4bac5" stroke-width="1.7" opacity="0.54"/>
<line x1="425.4" y1="254" x2="425.4" y2="325" stroke="#b4bac5" stroke-width="1.5" opacity="0.31"/>
<line x1="380.2" y1="254" x2="380.2" y2="325" stroke="#9da3ae" stroke-width="1.3" opacity="0.34"/>
<line x1="420.3" y1="254" x2="420.3" y2="325" stroke="#bcc2cc" stroke-width="1.4" opacity="0.39"/>
<line x1="701.5" y1="254" x2="701.5" y2="325" stroke="#bcc2cc" stroke-width="1.4" opacity="0.41"/>
<line x1="396.8" y1="254" x2="396.8" y2="325" stroke="#959ba6" stroke-width="1.0" opacity="0.60"/>
<line x1="123.6" y1="254" x2="123.6" y2="325" stroke="#b4bac5" stroke-width="1.3" opacity="0.50"/>
<line x1="654.7" y1="254" x2="654.7" y2="325" stroke="#959ba6" stroke-width="2.0" opacity="0.54"/>
<line x1="769.4" y1="254" x2="769.4" y2="325" stroke="#b4bac5" stroke-width="1.4" opacity="0.36"/>
<line x1="667.9" y1="254" x2="667.9" y2="325" stroke="#959ba6" stroke-width="1.3" opacity="0.34"/>
<line x1="540.1" y1="254" x2="540.1" y2="325" stroke="#bcc2cc" stroke-width="1.3" opacity="0.70"/>
<line x1="486.3" y1="254" x2="486.3" y2="325" stroke="#bcc2cc" stroke-width="1.5" opacity="0.44"/>
<line x1="371.9" y1="254" x2="371.9" y2="325" stroke="#9da3ae" stroke-width="1.8" opacity="0.60"/>
<line x1="386.8" y1="254" x2="386.8" y2="325" stroke="#bcc2cc" stroke-width="1.1" opacity="0.42"/>
<line x1="391.1" y1="254" x2="391.1" y2="325" stroke="#959ba6" stroke-width="1.1" opacity="0.65"/>
<line x1="252.0" y1="254" x2="252.0" y2="325" stroke="#9da3ae" stroke-width="0.8" opacity="0.54"/>
<line x1="577.8" y1="254" x2="577.8" y2="325" stroke="#bcc2cc" stroke-width="1.1" opacity="0.43"/>
<line x1="196.1" y1="254" x2="196.1" y2="325" stroke="#9da3ae" stroke-width="1.5" opacity="0.60"/>
<line x1="206.2" y1="254" x2="206.2" y2="325" stroke="#9da3ae" stroke-width="1.6" opacity="0.40"/>
<line x1="250.2" y1="254" x2="250.2" y2="325" stroke="#b4bac5" stroke-width="1.2" opacity="0.65"/>
<line x1="255.1" y1="254" x2="255.1" y2="325" stroke="#959ba6" stroke-width="1.0" opacity="0.60"/>
<line x1="676.0" y1="254" x2="676.0" y2="325" stroke="#959ba6" stroke-width="1.6" opacity="0.69"/>
<line x1="602.1" y1="254" x2="602.1" y2="325" stroke="#b4bac5" stroke-width="0.8" opacity="0.43"/>
<line x1="220.3" y1="254" x2="220.3" y2="325" stroke="#bcc2cc" stroke-width="0.8" opacity="0.56"/>
<line x1="224.7" y1="254" x2="224.7" y2="325" stroke="#959ba6" stroke-width="2.0" opacity="0.62"/>
<line x1="609.3" y1="254" x2="609.3" y2="325" stroke="#9da3ae" stroke-width="1.0" opacity="0.34"/>
<line x1="736.7" y1="254" x2="736.7" y2="325" stroke="#b4bac5" stroke-width="0.9" opacity="0.46"/>
<line x1="109.3" y1="254" x2="109.3" y2="325" stroke="#9da3ae" stroke-width="1.8" opacity="0.47"/>
<line x1="244.1" y1="254" x2="244.1" y2="325" stroke="#b4bac5" stroke-width="1.2" opacity="0.36"/>
<line x1="516.7" y1="254" x2="516.7" y2="325" stroke="#9da3ae" stroke-width="0.6" opacity="0.40"/>
<line x1="694.8" y1="254" x2="694.8" y2="325" stroke="#9da3ae" stroke-width="1.8" opacity="0.57"/>
<line x1="551.5" y1="254" x2="551.5" y2="325" stroke="#959ba6" stroke-width="1.6" opacity="0.56"/>
<line x1="409.5" y1="254" x2="409.5" y2="325" stroke="#b4bac5" stroke-width="1.0" opacity="0.58"/>
<line x1="724.7" y1="254" x2="724.7" y2="325" stroke="#959ba6" stroke-width="1.7" opacity="0.59"/>
<line x1="535.2" y1="254" x2="535.2" y2="325" stroke="#b4bac5" stroke-width="1.8" opacity="0.49"/>
<line x1="99.1" y1="254" x2="99.1" y2="325" stroke="#9da3ae" stroke-width="1.3" opacity="0.56"/>
<line x1="709.2" y1="254" x2="709.2" y2="325" stroke="#b4bac5" stroke-width="1.7" opacity="0.46"/>
<line x1="435.2" y1="254" x2="435.2" y2="325" stroke="#bcc2cc" stroke-width="0.7" opacity="0.52"/>
<line x1="200.0" y1="254" x2="200.0" y2="325" stroke="#959ba6" stroke-width="1.3" opacity="0.34"/>
<line x1="495.8" y1="254" x2="495.8" y2="325" stroke="#959ba6" stroke-width="1.6" opacity="0.50"/>
<line x1="542.1" y1="254" x2="542.1" y2="325" stroke="#b4bac5" stroke-width="1.3" opacity="0.46"/>
<line x1="762.8" y1="254" x2="762.8" y2="325" stroke="#959ba6" stroke-width="2.0" opacity="0.37"/>
<line x1="452.4" y1="254" x2="452.4" y2="325" stroke="#bcc2cc" stroke-width="1.6" opacity="0.55"/>
<line x1="540.9" y1="254" x2="540.9" y2="325" stroke="#b4bac5" stroke-width="1.0" opacity="0.46"/>
<line x1="94.5" y1="254" x2="94.5" y2="325" stroke="#9da3ae" stroke-width="1.9" opacity="0.55"/>
<line x1="567.5" y1="254" x2="567.5" y2="325" stroke="#b4bac5" stroke-width="0.8" opacity="0.42"/>
<line x1="371.3" y1="254" x2="371.3" y2="325" stroke="#959ba6" stroke-width="2.0" opacity="0.68"/>
<line x1="415.4" y1="254" x2="415.4" y2="325" stroke="#959ba6" stroke-width="0.8" opacity="0.61"/>
<line x1="663.8" y1="254" x2="663.8" y2="325" stroke="#959ba6" stroke-width="1.3" opacity="0.52"/>
<line x1="246.6" y1="254" x2="246.6" y2="325" stroke="#959ba6" stroke-width="1.1" opacity="0.56"/>
<line x1="670.4" y1="254" x2="670.4" y2="325" stroke="#9da3ae" stroke-width="1.3" opacity="0.42"/>
<line x1="477.0" y1="254" x2="477.0" y2="325" stroke="#959ba6" stroke-width="1.7" opacity="0.49"/>
<line x1="645.3" y1="254" x2="645.3" y2="325" stroke="#959ba6" stroke-width="1.0" opacity="0.45"/>
<line x1="266.3" y1="254" x2="266.3" y2="325" stroke="#9da3ae" stroke-width="1.6" opacity="0.49"/>
<line x1="660.9" y1="254" x2="660.9" y2="325" stroke="#b4bac5" stroke-width="1.1" opacity="0.56"/>
<line x1="314.0" y1="254" x2="314.0" y2="325" stroke="#9da3ae" stroke-width="1.2" opacity="0.55"/>
<line x1="556.4" y1="254" x2="556.4" y2="325" stroke="#b4bac5" stroke-width="0.8" opacity="0.42"/>
<line x1="360.4" y1="254" x2="360.4" y2="325" stroke="#bcc2cc" stroke-width="1.8" opacity="0.66"/>
<line x1="645.6" y1="254" x2="645.6" y2="325" stroke="#959ba6" stroke-width="1.3" opacity="0.44"/>
<line x1="501.5" y1="254" x2="501.5" y2="325" stroke="#bcc2cc" stroke-width="0.9" opacity="0.33"/>
<line x1="294.5" y1="254" x2="294.5" y2="325" stroke="#bcc2cc" stroke-width="1.4" opacity="0.64"/>
<line x1="217.7" y1="254" x2="217.7" y2="325" stroke="#9da3ae" stroke-width="1.1" opacity="0.36"/>
<line x1="731.4" y1="254" x2="731.4" y2="325" stroke="#959ba6" stroke-width="1.5" opacity="0.58"/>
<line x1="783.7" y1="254" x2="783.7" y2="325" stroke="#bcc2cc" stroke-width="1.5" opacity="0.66"/>
<line x1="648.5" y1="254" x2="648.5" y2="325" stroke="#b4bac5" stroke-width="0.9" opacity="0.58"/>
<line x1="464.5" y1="254" x2="464.5" y2="325" stroke="#9da3ae" stroke-width="1.5" opacity="0.35"/>
<line x1="169.7" y1="254" x2="169.7" y2="325" stroke="#9da3ae" stroke-width="0.9" opacity="0.36"/>
<line x1="437.5" y1="254" x2="437.5" y2="325" stroke="#bcc2cc" stroke-width="1.3" opacity="0.66"/>
<line x1="585.8" y1="254" x2="585.8" y2="325" stroke="#959ba6" stroke-width="1.3" opacity="0.52"/>
<line x1="702.0" y1="254" x2="702.0" y2="325" stroke="#bcc2cc" stroke-width="0.8" opacity="0.43"/>
<line x1="582.6" y1="254" x2="582.6" y2="325" stroke="#9da3ae" stroke-width="1.5" opacity="0.64"/>
<line x1="353.1" y1="254" x2="353.1" y2="325" stroke="#9da3ae" stroke-width="2.0" opacity="0.57"/>
<line x1="214.1" y1="254" x2="214.1" y2="325" stroke="#b4bac5" stroke-width="1.5" opacity="0.31"/>
<line x1="520.9" y1="254" x2="520.9" y2="325" stroke="#b4bac5" stroke-width="1.7" opacity="0.34"/>
<line x1="431.2" y1="254" x2="431.2" y2="325" stroke="#959ba6" stroke-width="0.6" opacity="0.59"/>
<line x1="532.1" y1="254" x2="532.1" y2="325" stroke="#b4bac5" stroke-width="0.7" opacity="0.56"/>
<line x1="329.0" y1="254" x2="329.0" y2="325" stroke="#959ba6" stroke-width="1.0" opacity="0.44"/>
<line x1="264.9" y1="254" x2="264.9" y2="325" stroke="#bcc2cc" stroke-width="1.8" opacity="0.42"/>
<line x1="676.8" y1="254" x2="676.8" y2="325" stroke="#9da3ae" stroke-width="1.1" opacity="0.69"/>
<line x1="709.2" y1="254" x2="709.2" y2="325" stroke="#b4bac5" stroke-width="2.0" opacity="0.56"/>
<line x1="651.2" y1="254" x2="651.2" y2="325" stroke="#b4bac5" stroke-width="0.9" opacity="0.59"/>
<line x1="176.2" y1="254" x2="176.2" y2="325" stroke="#bcc2cc" stroke-width="1.7" opacity="0.32"/>
<line x1="601.7" y1="254" x2="601.7" y2="325" stroke="#9da3ae" stroke-width="1.4" opacity="0.32"/>
<line x1="299.8" y1="254" x2="299.8" y2="325" stroke="#bcc2cc" stroke-width="0.7" opacity="0.63"/>
<line x1="424.7" y1="254" x2="424.7" y2="325" stroke="#bcc2cc" stroke-width="1.7" opacity="0.66"/>
<line x1="522.4" y1="254" x2="522.4" y2="325" stroke="#959ba6" stroke-width="1.5" opacity="0.58"/>
<line x1="511.4" y1="254" x2="511.4" y2="325" stroke="#bcc2cc" stroke-width="0.9" opacity="0.57"/>
<line x1="412.4" y1="254" x2="412.4" y2="325" stroke="#959ba6" stroke-width="0.7" opacity="0.37"/>
<line x1="111.4" y1="254" x2="111.4" y2="325" stroke="#bcc2cc" stroke-width="1.9" opacity="0.56"/>
<line x1="348.7" y1="254" x2="348.7" y2="325" stroke="#959ba6" stroke-width="1.7" opacity="0.52"/>
<line x1="269.5" y1="254" x2="269.5" y2="325" stroke="#b4bac5" stroke-width="0.9" opacity="0.31"/>
<line x1="99.6" y1="254" x2="99.6" y2="325" stroke="#bcc2cc" stroke-width="1.3" opacity="0.51"/>
<line x1="674.7" y1="254" x2="674.7" y2="325" stroke="#9da3ae" stroke-width="1.4" opacity="0.67"/>
<line x1="404.2" y1="254" x2="404.2" y2="325" stroke="#bcc2cc" stroke-width="1.6" opacity="0.54"/>
<line x1="795.1" y1="254" x2="795.1" y2="325" stroke="#959ba6" stroke-width="1.3" opacity="0.46"/>
<line x1="158.0" y1="254" x2="158.0" y2="325" stroke="#9da3ae" stroke-width="0.9" opacity="0.36"/>
<line x1="96.1" y1="254" x2="96.1" y2="325" stroke="#bcc2cc" stroke-width="0.6" opacity="0.57"/>
<line x1="790.5" y1="254" x2="790.5" y2="325" stroke="#bcc2cc" stroke-width="0.9" opacity="0.35"/>
<line x1="422.7" y1="254" x2="422.7" y2="325" stroke="#b4bac5" stroke-width="1.6" opacity="0.40"/>
<line x1="609.5" y1="254" x2="609.5" y2="325" stroke="#959ba6" stroke-width="1.9" opacity="0.45"/>
<line x1="619.3" y1="254" x2="619.3" y2="325" stroke="#959ba6" stroke-width="1.6" opacity="0.33"/>
<line x1="534.5" y1="254" x2="534.5" y2="325" stroke="#9da3ae" stroke-width="1.2" opacity="0.67"/>
<line x1="266.6" y1="254" x2="266.6" y2="325" stroke="#bcc2cc" stroke-width="1.6" opacity="0.30"/>
<line x1="95.5" y1="254" x2="95.5" y2="325" stroke="#bcc2cc" stroke-width="1.1" opacity="0.42"/>
<line x1="514.1" y1="254" x2="514.1" y2="325" stroke="#9da3ae" stroke-width="1.5" opacity="0.43"/>
<line x1="763.4" y1="254" x2="763.4" y2="325" stroke="#9da3ae" stroke-width="1.3" opacity="0.37"/>
<line x1="775.9" y1="254" x2="775.9" y2="325" stroke="#bcc2cc" stroke-width="1.1" opacity="0.56"/>
<line x1="535.2" y1="254" x2="535.2" y2="325" stroke="#9da3ae" stroke-width="1.3" opacity="0.61"/>
<line x1="408.7" y1="254" x2="408.7" y2="325" stroke="#b4bac5" stroke-width="1.7" opacity="0.53"/>
<line x1="294.1" y1="254" x2="294.1" y2="325" stroke="#bcc2cc" stroke-width="1.5" opacity="0.56"/>
<line x1="658.4" y1="254" x2="658.4" y2="325" stroke="#b4bac5" stroke-width="1.8" opacity="0.59"/>
<line x1="96.1" y1="254" x2="96.1" y2="325" stroke="#959ba6" stroke-width="1.4" opacity="0.42"/>
<line x1="391.4" y1="254" x2="391.4" y2="325" stroke="#959ba6" stroke-width="1.1" opacity="0.57"/>
<line x1="515.3" y1="254" x2="515.3" y2="325" stroke="#959ba6" stroke-width="1.7" opacity="0.41"/>
<line x1="86.2" y1="254" x2="86.2" y2="325" stroke="#b4bac5" stroke-width="1.0" opacity="0.36"/>
<line x1="743.2" y1="254" x2="743.2" y2="325" stroke="#bcc2cc" stroke-width="1.0" opacity="0.36"/>
<line x1="721.8" y1="254" x2="721.8" y2="325" stroke="#959ba6" stroke-width="1.0" opacity="0.64"/>
<line x1="662.0" y1="254" x2="662.0" y2="325" stroke="#9da3ae" stroke-width="1.1" opacity="0.33"/>
<line x1="480.9" y1="254" x2="480.9" y2="325" stroke="#9da3ae" stroke-width="0.9" opacity="0.60"/>
<line x1="751.2" y1="254" x2="751.2" y2="325" stroke="#959ba6" stroke-width="1.0" opacity="0.32"/>
<line x1="367.8" y1="254" x2="367.8" y2="325" stroke="#959ba6" stroke-width="1.9" opacity="0.53"/>
<line x1="91.7" y1="254" x2="91.7" y2="325" stroke="#9da3ae" stroke-width="1.2" opacity="0.34"/>
<line x1="661.7" y1="254" x2="661.7" y2="325" stroke="#bcc2cc" stroke-width="0.9" opacity="0.53"/>
<line x1="726.3" y1="254" x2="726.3" y2="325" stroke="#b4bac5" stroke-width="1.3" opacity="0.54"/>
<line x1="220.2" y1="254" x2="220.2" y2="325" stroke="#959ba6" stroke-width="0.7" opacity="0.62"/>
<line x1="292.2" y1="254" x2="292.2" y2="325" stroke="#b4bac5" stroke-width="1.2" opacity="0.51"/>
<rect x="80" y="322.5" width="720" height="2.5" fill="#737882"/>
</g>
<path d="M112,254.5 L772,254.5 C785,257 792,274 792,289 C792,305 783,319 770,321 L115,321 C102,319 92,305 92,291 C92,276 99,258 112,254.5 Z" fill="none" stroke="#dde1e7" stroke-width="2.4"/>
<path d="M114,258.3 L770,258.3 C781,261 788,276 788,289 C788,303 780,316 768,318 L117,318 C105,316 96,303 96,291 C96,278 103,261 114,258.3 Z" fill="none" stroke="#60656d" stroke-width="1.5" opacity="0.9"/>
<rect x="125.5" y="267" width="40.5" height="37" fill="#161616"/>
<circle cx="147" cy="285" r="12" fill="#0c0c0c" stroke="#2c2c2c" stroke-width="1.5"/>
<circle cx="147" cy="279.5" r="2" fill="#d8d0c0"/>
<path d="M139,287 Q147,292 155,287 L155,289.5 Q147,294 139,289.5 Z" fill="#c8c0b0"/>
<text x="129.3" y="318" font-family="Liberation Serif, serif" font-weight="bold" font-size="14.5" fill="#f6f7f9" textLength="14.5" lengthAdjust="spacingAndGlyphs">DC</text><text x="151" y="318" font-family="Liberation Serif, serif" font-weight="bold" font-size="14.5" fill="#f6f7f9" textLength="15" lengthAdjust="spacingAndGlyphs">5V</text>
<circle cx="106.8" cy="292.2" r="10" fill="#c3c8cf" opacity="0.6"/>
<circle cx="106.8" cy="292.2" r="9" fill="#1a1a1a"/>
<path d="M101.8,290.2 L111.8,294.2" stroke="#333" stroke-width="1.5"/>
<circle cx="107.8" cy="294.2" r="1.3" fill="#9a9a9a"/>
<circle cx="778" cy="292.2" r="10.8" fill="#c3c8cf" opacity="0.6"/>
<circle cx="778" cy="292.2" r="9.8" fill="#1a1a1a"/>
<path d="M773,290.2 L783,294.2" stroke="#333" stroke-width="1.5"/>
<circle cx="779" cy="294.2" r="1.3" fill="#9a9a9a"/>
<ellipse cx="244.5" cy="279" rx="24" ry="16.5" fill="#c9ced5" opacity="0.7"/>
<ellipse cx="244.5" cy="279" rx="22.5" ry="15" fill="#232323"/>
<path d="M226.5,279 A18,10.5 0 0 1 262.5,279" fill="none" stroke="#9d9b96" stroke-width="1.3"/>
<path d="M222.0,279 C222.0,288 224.5,296 230.5,301 L254.5,301 C262.5,296 267.0,288 267.0,279 Z" fill="#252525"/>
<path d="M234.5,281 C234.5,275 237.5,272.5 242.5,272.5 C247.5,272.5 250.5,275 250.5,281 L250.5,297 L234.5,297 Z" fill="#d6d2ca"/>
<path d="M234.5,279 L250.5,279" stroke="#f2efe8" stroke-width="1.2"/>
<path d="M234.5,290 L250.5,290" stroke="#aaa59c" stroke-width="1"/>
<ellipse cx="242.2" cy="285" rx="1.6" ry="3.2" fill="#2a1e14"/>
<ellipse cx="242.0" cy="309.5" rx="19.3" ry="14.6" fill="url(#bncin)" stroke="#ebe7df" stroke-width="2.6"/>
<ellipse cx="242.0" cy="311" rx="14" ry="9" fill="#2b231e" opacity="0.8"/>
<circle cx="242.0" cy="301" r="7.6" fill="#e6e2da" stroke="#b8b4ac" stroke-width="0.8"/>
<circle cx="242.0" cy="301.3" r="2.8" fill="#5a4010"/>
<circle cx="243.0" cy="302.3" r="1.2" fill="#e0c040"/>
<ellipse cx="362" cy="279" rx="24" ry="16.5" fill="#c9ced5" opacity="0.7"/>
<ellipse cx="362" cy="279" rx="22.5" ry="15" fill="#232323"/>
<path d="M344,279 A18,10.5 0 0 1 380,279" fill="none" stroke="#9d9b96" stroke-width="1.3"/>
<path d="M339.5,279 C339.5,288 342,296 348,301 L372,301 C380,296 384.5,288 384.5,279 Z" fill="#252525"/>
<path d="M352,281 C352,275 355,272.5 360,272.5 C365,272.5 368,275 368,281 L368,297 L352,297 Z" fill="#d6d2ca"/>
<path d="M352,279 L368,279" stroke="#f2efe8" stroke-width="1.2"/>
<path d="M352,290 L368,290" stroke="#aaa59c" stroke-width="1"/>
<ellipse cx="359.7" cy="285" rx="1.6" ry="3.2" fill="#2a1e14"/>
<ellipse cx="359.5" cy="309.5" rx="19.3" ry="14.6" fill="url(#bncin)" stroke="#ebe7df" stroke-width="2.6"/>
<ellipse cx="359.5" cy="311" rx="14" ry="9" fill="#2b231e" opacity="0.8"/>
<circle cx="359.5" cy="301" r="7.6" fill="#e6e2da" stroke="#b8b4ac" stroke-width="0.8"/>
<circle cx="359.5" cy="301.3" r="2.8" fill="#5a4010"/>
<circle cx="360.5" cy="302.3" r="1.2" fill="#e0c040"/>
<ellipse cx="480" cy="279" rx="24" ry="16.5" fill="#c9ced5" opacity="0.7"/>
<ellipse cx="480" cy="279" rx="22.5" ry="15" fill="#232323"/>
<path d="M462,279 A18,10.5 0 0 1 498,279" fill="none" stroke="#9d9b96" stroke-width="1.3"/>
<path d="M457.5,279 C457.5,288 460,296 466,301 L490,301 C498,296 502.5,288 502.5,279 Z" fill="#252525"/>
<path d="M470,281 C470,275 473,272.5 478,272.5 C483,272.5 486,275 486,281 L486,297 L470,297 Z" fill="#d6d2ca"/>
<path d="M470,279 L486,279" stroke="#f2efe8" stroke-width="1.2"/>
<path d="M470,290 L486,290" stroke="#aaa59c" stroke-width="1"/>
<ellipse cx="477.7" cy="285" rx="1.6" ry="3.2" fill="#2a1e14"/>
<ellipse cx="477.5" cy="309.5" rx="19.3" ry="14.6" fill="url(#bncin)" stroke="#ebe7df" stroke-width="2.6"/>
<ellipse cx="477.5" cy="311" rx="14" ry="9" fill="#2b231e" opacity="0.8"/>
<circle cx="477.5" cy="301" r="7.6" fill="#e6e2da" stroke="#b8b4ac" stroke-width="0.8"/>
<circle cx="477.5" cy="301.3" r="2.8" fill="#5a4010"/>
<circle cx="478.5" cy="302.3" r="1.2" fill="#e0c040"/>
<ellipse cx="598.3" cy="279" rx="24" ry="16.5" fill="#c9ced5" opacity="0.7"/>
<ellipse cx="598.3" cy="279" rx="22.5" ry="15" fill="#232323"/>
<path d="M580.3,279 A18,10.5 0 0 1 616.3,279" fill="none" stroke="#9d9b96" stroke-width="1.3"/>
<path d="M575.8,279 C575.8,288 578.3,296 584.3,301 L608.3,301 C616.3,296 620.8,288 620.8,279 Z" fill="#252525"/>
<path d="M588.3,281 C588.3,275 591.3,272.5 596.3,272.5 C601.3,272.5 604.3,275 604.3,281 L604.3,297 L588.3,297 Z" fill="#d6d2ca"/>
<path d="M588.3,279 L604.3,279" stroke="#f2efe8" stroke-width="1.2"/>
<path d="M588.3,290 L604.3,290" stroke="#aaa59c" stroke-width="1"/>
<ellipse cx="596.0" cy="285" rx="1.6" ry="3.2" fill="#2a1e14"/>
<ellipse cx="595.8" cy="309.5" rx="19.3" ry="14.6" fill="url(#bncin)" stroke="#ebe7df" stroke-width="2.6"/>
<ellipse cx="595.8" cy="311" rx="14" ry="9" fill="#2b231e" opacity="0.8"/>
<circle cx="595.8" cy="301" r="7.6" fill="#e6e2da" stroke="#b8b4ac" stroke-width="0.8"/>
<circle cx="595.8" cy="301.3" r="2.8" fill="#5a4010"/>
<circle cx="596.8" cy="302.3" r="1.2" fill="#e0c040"/>
<rect x="682.5" y="282.5" width="66.5" height="22.2" rx="4" fill="#101010"/>
<path d="M685.8,285.6 L745.8,285.6 L745.8,296.2 L738.5,302 L693,302 L685.8,296.2 Z" fill="#161616" stroke="#dcc68e" stroke-width="1.7"/>
<rect x="694" y="289.5" width="43" height="2" fill="#2f2f2f"/>
<circle cx="705" cy="297" r="1.3" fill="#d9c48a"/><circle cx="724.5" cy="297" r="1.3" fill="#d9c48a"/>
<text x="684.6" y="317.7" font-family="Liberation Serif, serif" font-weight="bold" font-size="14.5" fill="#f6f7f9" textLength="27" lengthAdjust="spacingAndGlyphs">HDMI</text><text x="718" y="317.7" font-family="Liberation Serif, serif" font-weight="bold" font-size="14.5" fill="#f6f7f9" textLength="24" lengthAdjust="spacingAndGlyphs">OUT</text>
<g transform="rotate(180 427.95 170.8)"><text x="238.6" y="181.9" font-size="32.5" fill="#f4f6f8" stroke="#f4f6f8" stroke-width="0.4" textLength="378.7" lengthAdjust="spacingAndGlyphs">SDI Multi – viewer 4x1</text></g>
<g stroke="#f2f4f7" fill="none" stroke-linecap="butt">
<line x1="641" y1="218.9" x2="704" y2="218.9" stroke-width="1.4"/>
<line x1="680" y1="237" x2="734" y2="237" stroke-width="1.6"/>
<line x1="698.3" y1="236.5" x2="707.8" y2="219.2" stroke-width="1.6"/>
<line x1="707.5" y1="219.5" x2="718.5" y2="236.5" stroke-width="4.2"/>
<line x1="710.5" y1="236.5" x2="718.5" y2="219.5" stroke-width="3"/>
<line x1="718.8" y1="219.5" x2="729.8" y2="236.5" stroke-width="5.5"/>
</g>
<text transform="rotate(180 672.5 224.7)" x="641.5" y="230.6" font-size="21.5" fill="#f2f4f7" textLength="62" lengthAdjust="spacingAndGlyphs">iistar</text>
<circle cx="626.3" cy="237.8" r="7.6" fill="none" stroke="#f2f4f7" stroke-width="1.3"/>
<text transform="rotate(180 626.3 237.8)" x="622.3" y="242.3" font-size="12" fill="#f2f4f7">R</text>
<rect x="242" y="342" width="1" height="93" fill="#000" shape-rendering="crispEdges"/>
<rect x="367" y="338" width="1" height="96" fill="#000" shape-rendering="crispEdges"/>
<rect x="480" y="337" width="1" height="97" fill="#000" shape-rendering="crispEdges"/>
<rect x="598" y="338" width="1" height="96" fill="#000" shape-rendering="crispEdges"/>
<rect x="242" y="433" width="357" height="1" fill="#000" shape-rendering="crispEdges"/>
<rect x="415" y="433" width="1" height="175" fill="#000" shape-rendering="crispEdges"/>
<path d="M415.5,500 L436.7,542 L415.5,530 L395.3,542 Z" fill="#000"/>
<rect x="706" y="339" width="1" height="210" fill="#000" shape-rendering="crispEdges"/>
<rect x="706" y="548" width="229" height="1" fill="#000" shape-rendering="crispEdges"/>
<rect x="934" y="548" width="1" height="91" fill="#000" shape-rendering="crispEdges"/>
<path d="M686.3,426.3 L706.5,439.4 L727.9,426.3 L706.5,468.8 Z" fill="#000"/>
<rect x="227" y="607" width="1" height="241" fill="#333" shape-rendering="crispEdges"/>
<rect x="598" y="607" width="1" height="241" fill="#333" shape-rendering="crispEdges"/>
<rect x="227" y="607" width="372" height="1" fill="#333" shape-rendering="crispEdges"/>
<rect x="227" y="847" width="372" height="1" fill="#333" shape-rendering="crispEdges"/>
<g transform="translate(285,640)"><path d="M7,13 C7,11 8,10 10,10 L38,10 C46,14 50,22 58,28 C66,33 74,34 86,34.5 L111.5,35 L111.5,42 C98,42 88,44 81,48 C75,52 72,58 68,62 L22,62 C16,62 14,58 14,52 L14,22 C11,19 8,16 7,13 Z" fill="#1f1f1f"/><path d="M38,10 L108,13 C112,14 113.5,16 113.5,19 L113.5,33 C113.5,34.5 112.5,35 111,35 L86,34.5 C74,34 66,33 58,28 C50,22 46,14 38,10 Z" fill="url(#camwhite)" stroke="#d0d0d0" stroke-width="0.6"/><path d="M111.5,42 L111.5,56 C111.5,58 110,59 108,59 L68,62 C72,58 75,52 81,48 C88,44 98,42 111.5,42 Z" fill="url(#camwhite2)" stroke="#cfcfcf" stroke-width="0.6"/><path d="M16,20 L48,20 L50,61 L22,61 C18,61 16,58 16,54 Z" fill="#2a2a2a"/><path d="M16,24 L16,52 C16,58 18,61 24,61 L48,61" fill="none" stroke="#8a8a8a" stroke-width="1.1"/><path d="M50,22 L50.5,60" fill="none" stroke="#3a3a3a" stroke-width="1"/><ellipse cx="31" cy="37" rx="9" ry="12" fill="#141414" stroke="#3c3c3c" stroke-width="0.8"/><ellipse cx="31.5" cy="37.5" rx="6.5" ry="9.5" fill="url(#lens)"/></g>
<g transform="translate(429.5,640)"><path d="M7,13 C7,11 8,10 10,10 L38,10 C46,14 50,22 58,28 C66,33 74,34 86,34.5 L111.5,35 L111.5,42 C98,42 88,44 81,48 C75,52 72,58 68,62 L22,62 C16,62 14,58 14,52 L14,22 C11,19 8,16 7,13 Z" fill="#1f1f1f"/><path d="M38,10 L108,13 C112,14 113.5,16 113.5,19 L113.5,33 C113.5,34.5 112.5,35 111,35 L86,34.5 C74,34 66,33 58,28 C50,22 46,14 38,10 Z" fill="url(#camwhite)" stroke="#d0d0d0" stroke-width="0.6"/><path d="M111.5,42 L111.5,56 C111.5,58 110,59 108,59 L68,62 C72,58 75,52 81,48 C88,44 98,42 111.5,42 Z" fill="url(#camwhite2)" stroke="#cfcfcf" stroke-width="0.6"/><path d="M16,20 L48,20 L50,61 L22,61 C18,61 16,58 16,54 Z" fill="#2a2a2a"/><path d="M16,24 L16,52 C16,58 18,61 24,61 L48,61" fill="none" stroke="#8a8a8a" stroke-width="1.1"/><path d="M50,22 L50.5,60" fill="none" stroke="#3a3a3a" stroke-width="1"/><ellipse cx="31" cy="37" rx="9" ry="12" fill="#141414" stroke="#3c3c3c" stroke-width="0.8"/><ellipse cx="31.5" cy="37.5" rx="6.5" ry="9.5" fill="url(#lens)"/></g>
<g transform="translate(285,738.5)"><path d="M7,13 C7,11 8,10 10,10 L38,10 C46,14 50,22 58,28 C66,33 74,34 86,34.5 L111.5,35 L111.5,42 C98,42 88,44 81,48 C75,52 72,58 68,62 L22,62 C16,62 14,58 14,52 L14,22 C11,19 8,16 7,13 Z" fill="#1f1f1f"/><path d="M38,10 L108,13 C112,14 113.5,16 113.5,19 L113.5,33 C113.5,34.5 112.5,35 111,35 L86,34.5 C74,34 66,33 58,28 C50,22 46,14 38,10 Z" fill="url(#camwhite)" stroke="#d0d0d0" stroke-width="0.6"/><path d="M111.5,42 L111.5,56 C111.5,58 110,59 108,59 L68,62 C72,58 75,52 81,48 C88,44 98,42 111.5,42 Z" fill="url(#camwhite2)" stroke="#cfcfcf" stroke-width="0.6"/><path d="M16,20 L48,20 L50,61 L22,61 C18,61 16,58 16,54 Z" fill="#2a2a2a"/><path d="M16,24 L16,52 C16,58 18,61 24,61 L48,61" fill="none" stroke="#8a8a8a" stroke-width="1.1"/><path d="M50,22 L50.5,60" fill="none" stroke="#3a3a3a" stroke-width="1"/><ellipse cx="31" cy="37" rx="9" ry="12" fill="#141414" stroke="#3c3c3c" stroke-width="0.8"/><ellipse cx="31.5" cy="37.5" rx="6.5" ry="9.5" fill="url(#lens)"/></g>
<g transform="translate(429.5,738.5)"><path d="M7,13 C7,11 8,10 10,10 L38,10 C46,14 50,22 58,28 C66,33 74,34 86,34.5 L111.5,35 L111.5,42 C98,42 88,44 81,48 C75,52 72,58 68,62 L22,62 C16,62 14,58 14,52 L14,22 C11,19 8,16 7,13 Z" fill="#1f1f1f"/><path d="M38,10 L108,13 C112,14 113.5,16 113.5,19 L113.5,33 C113.5,34.5 112.5,35 111,35 L86,34.5 C74,34 66,33 58,28 C50,22 46,14 38,10 Z" fill="url(#camwhite)" stroke="#d0d0d0" stroke-width="0.6"/><path d="M111.5,42 L111.5,56 C111.5,58 110,59 108,59 L68,62 C72,58 75,52 81,48 C88,44 98,42 111.5,42 Z" fill="url(#camwhite2)" stroke="#cfcfcf" stroke-width="0.6"/><path d="M16,20 L48,20 L50,61 L22,61 C18,61 16,58 16,54 Z" fill="#2a2a2a"/><path d="M16,24 L16,52 C16,58 18,61 24,61 L48,61" fill="none" stroke="#8a8a8a" stroke-width="1.1"/><path d="M50,22 L50.5,60" fill="none" stroke="#3a3a3a" stroke-width="1"/><ellipse cx="31" cy="37" rx="9" ry="12" fill="#141414" stroke="#3c3c3c" stroke-width="0.8"/><ellipse cx="31.5" cy="37.5" rx="6.5" ry="9.5" fill="url(#lens)"/></g>
<rect x="739" y="638" width="1" height="485" fill="#000" shape-rendering="crispEdges"/>
<rect x="1137" y="638" width="1" height="485" fill="#000" shape-rendering="crispEdges"/>
<rect x="739" y="638" width="399" height="1" fill="#000" shape-rendering="crispEdges"/>
<rect x="739" y="1122" width="399" height="1" fill="#000" shape-rendering="crispEdges"/>
<rect x="934" y="638" width="1" height="246" fill="#000" shape-rendering="crispEdges"/>
<rect x="934" y="763" width="204" height="1" fill="#000" shape-rendering="crispEdges"/>
<rect x="739" y="883" width="399" height="1" fill="#000" shape-rendering="crispEdges"/>
<rect x="764.6" y="656.8" width="159.19999999999993" height="94.0" fill="#000" opacity="0.10" filter="url(#blur2)"/>
<rect x="762.6" y="654.8" width="159.19999999999993" height="94.0" fill="#38383c"/>
<rect x="762.6" y="654.8" width="159.19999999999993" height="5" fill="url(#tvtop)"/>
<rect x="762.6" y="654.8" width="5" height="94.0" fill="url(#tvleft)"/>
<rect x="766.8000000000001" y="658.3" width="151.69999999999993" height="86.5" fill="#262628"/>
<rect x="767.6" y="659" width="72.0" height="85" fill="#df0000"/>
<rect x="839.6" y="659" width="78.89999999999998" height="85" fill="#ffea14"/>
<rect x="958.2" y="659.5" width="157.0999999999999" height="94.5" fill="#000" opacity="0.10" filter="url(#blur2)"/>
<rect x="956.2" y="657.5" width="157.0999999999999" height="94.5" fill="#38383c"/>
<rect x="956.2" y="657.5" width="157.0999999999999" height="5" fill="url(#tvtop)"/>
<rect x="956.2" y="657.5" width="5" height="94.5" fill="url(#tvleft)"/>
<rect x="960.4000000000001" y="661.0" width="149.5999999999999" height="87.0" fill="#262628"/>
<rect x="959.7" y="661.7" width="101.0" height="86.29999999999995" fill="#df0000"/>
<rect x="1060.7" y="661.7" width="48.59999999999991" height="29.299999999999955" fill="#ffea14"/>
<rect x="1060.7" y="691" width="48.59999999999991" height="28.799999999999955" fill="#1db100"/>
<rect x="1060.7" y="719.8" width="48.59999999999991" height="28.200000000000045" fill="#256cff"/>
<rect x="764.6" y="777.6" width="159.19999999999993" height="93.89999999999998" fill="#000" opacity="0.10" filter="url(#blur2)"/>
<rect x="762.6" y="775.6" width="159.19999999999993" height="93.89999999999998" fill="#38383c"/>
<rect x="762.6" y="775.6" width="159.19999999999993" height="5" fill="url(#tvtop)"/>
<rect x="762.6" y="775.6" width="5" height="93.89999999999998" fill="url(#tvleft)"/>
<rect x="766.8000000000001" y="779.1" width="151.69999999999993" height="86.39999999999998" fill="#262628"/>
<rect x="767.6" y="778.9" width="72.0" height="85.10000000000002" fill="#1db100"/>
<rect x="839.6" y="778.9" width="78.89999999999998" height="85.10000000000002" fill="#256cff"/>
<rect x="958.6" y="778.1" width="156.69999999999993" height="93.89999999999998" fill="#000" opacity="0.10" filter="url(#blur2)"/>
<rect x="956.6" y="776.1" width="156.69999999999993" height="93.89999999999998" fill="#38383c"/>
<rect x="956.6" y="776.1" width="156.69999999999993" height="5" fill="url(#tvtop)"/>
<rect x="956.6" y="776.1" width="5" height="93.89999999999998" fill="url(#tvleft)"/>
<rect x="960.8000000000001" y="779.6" width="149.19999999999993" height="86.39999999999998" fill="#262628"/>
<rect x="959.9" y="779.6" width="73.10000000000002" height="43.299999999999955" fill="#df0000"/>
<rect x="1033" y="779.6" width="76.29999999999995" height="43.299999999999955" fill="#ffea14"/>
<rect x="959.9" y="822.9" width="73.10000000000002" height="43.10000000000002" fill="#1db100"/>
<rect x="1033" y="822.9" width="76.29999999999995" height="43.10000000000002" fill="#256cff"/>
<rect x="770.1" y="902.5" width="157.69999999999993" height="94.10000000000002" fill="#000" opacity="0.10" filter="url(#blur2)"/>
<rect x="768.1" y="900.5" width="157.69999999999993" height="94.10000000000002" fill="#38383c"/>
<rect x="768.1" y="900.5" width="157.69999999999993" height="5" fill="url(#tvtop)"/>
<rect x="768.1" y="900.5" width="5" height="94.10000000000002" fill="url(#tvleft)"/>
<rect x="772.3000000000001" y="904.0" width="150.19999999999993" height="86.60000000000002" fill="#262628"/>
<rect x="773.5" y="904.8" width="148.10000000000002" height="84.80000000000007" fill="#df0000"/>
<rect x="955.3" y="902.5" width="157.29999999999995" height="94.10000000000002" fill="#000" opacity="0.10" filter="url(#blur2)"/>
<rect x="953.3" y="900.5" width="157.29999999999995" height="94.10000000000002" fill="#38383c"/>
<rect x="953.3" y="900.5" width="157.29999999999995" height="5" fill="url(#tvtop)"/>
<rect x="953.3" y="900.5" width="5" height="94.10000000000002" fill="url(#tvleft)"/>
<rect x="957.5" y="904.0" width="149.79999999999995" height="86.60000000000002" fill="#262628"/>
<rect x="957" y="904.8" width="150.5" height="84.70000000000005" fill="#ffea14"/>
<rect x="769.8" y="1007.8" width="158.20000000000005" height="94.5" fill="#000" opacity="0.10" filter="url(#blur2)"/>
<rect x="767.8" y="1005.8" width="158.20000000000005" height="94.5" fill="#38383c"/>
<rect x="767.8" y="1005.8" width="158.20000000000005" height="5" fill="url(#tvtop)"/>
<rect x="767.8" y="1005.8" width="5" height="94.5" fill="url(#tvleft)"/>
<rect x="772.0" y="1009.3" width="150.70000000000005" height="87.0" fill="#262628"/>
<rect x="773.2" y="1010" width="148.5999999999999" height="85.5" fill="#1db100"/>
<rect x="953.2" y="1007.8" width="158.5999999999999" height="94.5" fill="#000" opacity="0.10" filter="url(#blur2)"/>
<rect x="951.2" y="1005.8" width="158.5999999999999" height="94.5" fill="#38383c"/>
<rect x="951.2" y="1005.8" width="158.5999999999999" height="5" fill="url(#tvtop)"/>
<rect x="951.2" y="1005.8" width="5" height="94.5" fill="url(#tvleft)"/>
<rect x="955.4000000000001" y="1009.3" width="151.0999999999999" height="87.0" fill="#262628"/>
<rect x="955" y="1010" width="151.5" height="85.5" fill="#256cff"/>
<text x="303.66" y="540.60" font-size="27.01" fill="#000" stroke="#000" stroke-width="0.12" textLength="76.84" lengthAdjust="spacingAndGlyphs">SDI in</text>
<text x="747.56" y="523.00" font-size="28.53" fill="#000" stroke="#000" stroke-width="0.12" textLength="127.38" lengthAdjust="spacingAndGlyphs">HDMI out</text>
<text x="281.94" y="893.08" font-size="24.15" fill="#000" stroke="#000" stroke-width="0.12" textLength="279.71" lengthAdjust="spacingAndGlyphs">HD surveillance camera</text>
<text x="851.15" y="1163.59" font-size="24.64" fill="#000" stroke="#000" stroke-width="0.12" textLength="195.50" lengthAdjust="spacingAndGlyphs">HDMI Displayer</text>
<text x="324.17" y="731.84" font-size="19.54" fill="#000" textLength="41.03" lengthAdjust="spacingAndGlyphs">CH1</text>
<text x="475.38" y="731.84" font-size="19.54" fill="#000" textLength="43.24" lengthAdjust="spacingAndGlyphs">CH2</text>
<text x="324.17" y="821.66" font-size="19.47" fill="#000" textLength="42.78" lengthAdjust="spacingAndGlyphs">CH3</text>
<text x="475.75" y="822.00" font-size="18.94" fill="#000" textLength="44.03" lengthAdjust="spacingAndGlyphs">CH4</text>
<text x="783.38" y="710.34" font-size="22.81" fill="#000" textLength="39.98" lengthAdjust="spacingAndGlyphs">CH1</text>
<text x="858.84" y="710.34" font-size="22.19" fill="#000" textLength="42.32" lengthAdjust="spacingAndGlyphs">CH2</text>
<text x="785.22" y="832.75" font-size="21.20" fill="#000" textLength="41.73" lengthAdjust="spacingAndGlyphs">CH3</text>
<text x="859.64" y="832.66" font-size="20.95" fill="#000" textLength="41.56" lengthAdjust="spacingAndGlyphs">CH4</text>
<text x="990.38" y="711.50" font-size="20.95" fill="#000" textLength="38.77" lengthAdjust="spacingAndGlyphs">CH1</text>
<text x="1063.80" y="683.84" font-size="21.45" fill="#000" textLength="42.32" lengthAdjust="spacingAndGlyphs">CH2</text>
<text x="1063.80" y="712.00" font-size="20.82" fill="#000" textLength="42.02" lengthAdjust="spacingAndGlyphs">CH4</text>
<text x="1064.72" y="741.42" font-size="20.95" fill="#000" textLength="41.40" lengthAdjust="spacingAndGlyphs">CH3</text>
<text x="974.26" y="806.84" font-size="20.90" fill="#000" textLength="39.48" lengthAdjust="spacingAndGlyphs">CH1</text>
<text x="1053.92" y="806.84" font-size="20.90" fill="#000" textLength="42.78" lengthAdjust="spacingAndGlyphs">CH2</text>
<text x="973.34" y="846.50" font-size="20.90" fill="#000" textLength="41.44" lengthAdjust="spacingAndGlyphs">CH3</text>
<text x="1053.68" y="847.00" font-size="21.45" fill="#000" textLength="43.02" lengthAdjust="spacingAndGlyphs">CH4</text>
<text x="811.50" y="963.16" font-size="34.07" fill="#000" textLength="61.16" lengthAdjust="spacingAndGlyphs">CH1</text>
<text x="991.95" y="963.16" font-size="34.25" fill="#000" textLength="67.21" lengthAdjust="spacingAndGlyphs">CH2</text>
<text x="811.42" y="1065.25" font-size="34.96" fill="#000" textLength="66.33" lengthAdjust="spacingAndGlyphs">CH3</text>
<text x="995.05" y="1065.42" font-size="35.27" fill="#000" textLength="67.03" lengthAdjust="spacingAndGlyphs">CH4</text>
</svg></body></html>
